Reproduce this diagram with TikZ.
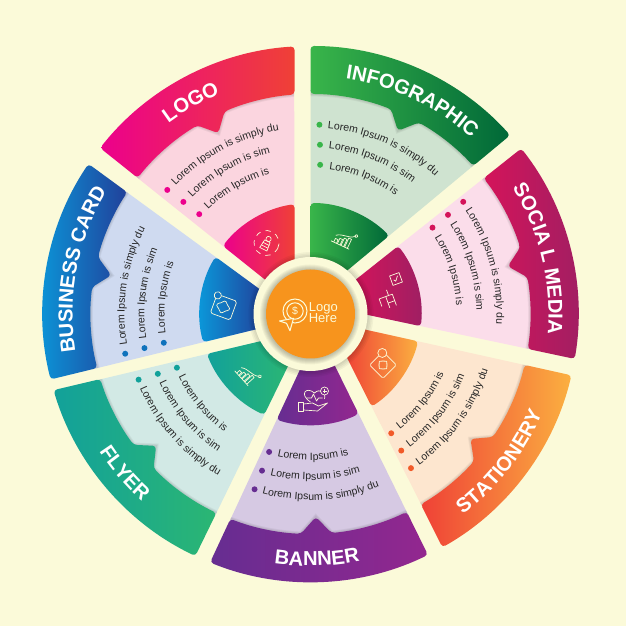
\documentclass[tikz,border=0pt]{standalone}
\usepackage{fontspec}
\setmainfont{Liberation Sans}
\usetikzlibrary{decorations.text}
\definecolor{paper}{HTML}{FBFAD9}
\definecolor{logoleft}{HTML}{EC008C}\definecolor{logoright}{HTML}{EF4136}\definecolor{logopale}{HTML}{FBD5DF}
\definecolor{infoleft}{HTML}{39B54A}\definecolor{inforight}{HTML}{006838}\definecolor{infopale}{HTML}{CFE3D0}
\definecolor{socialleft}{HTML}{D4145A}\definecolor{socialright}{HTML}{9E1F63}\definecolor{socialpale}{HTML}{FBDDEA}
\definecolor{statleft}{HTML}{EF4136}\definecolor{statright}{HTML}{FBB040}\definecolor{statpale}{HTML}{FDE6CF}
\definecolor{statbullet}{HTML}{F15A29}
\definecolor{bannerleft}{HTML}{662D91}\definecolor{bannerright}{HTML}{93278F}\definecolor{bannerpale}{HTML}{D6C9E3}
\definecolor{flyerleft}{HTML}{12A19A}\definecolor{flyerright}{HTML}{2BB673}\definecolor{flyerpale}{HTML}{D2E9E5}
\definecolor{cardleft}{HTML}{0A9BDC}\definecolor{cardright}{HTML}{21409A}\definecolor{cardpale}{HTML}{CFDAF0}
\definecolor{cardbullet}{HTML}{0F72BC}
\definecolor{hubfill}{HTML}{F7941D}
\newcommand{\headfont}{\fontsize{11.5}{13}\selectfont\bfseries}
\newcommand{\loremfont}{\fontsize{6}{7}\selectfont}
% outer band with its pointer, as one path
\newcommand{\bandpath}{(\aOut:268) arc[start angle=\aOut,end angle=\bOut,radius=268]
  -- (\bIn:220) arc[start angle=\bIn,end angle=\midang-4,radius=220]
  -- (\midang:203) -- ({\midang+4}:220)
  arc[start angle=\midang+4,end angle=\aIn,radius=220] -- cycle}
% small bar chart, used twice
\newcommand{\chartmark}{
  \draw[icon] (-11,-6) -- (9,-6);
  \foreach \x/\h in {-8/4,-4/6,0/8,4/10} {
    \draw[icon] (\x,-6) -- (\x,-6+\h) -- (\x+3,-6+\h) -- (\x+3,-6);
  }
  \draw[icon] (-9,1) .. controls (-3,6) and (3,3) .. (9,8);
  \draw[icon] (10,9) circle (1.5);
}
\tikzset{
  icon/.style={draw=paper,line width=.4pt,line join=round},
  bullet/.style={circle,inner sep=0pt,minimum size=3.4pt}
}
\begin{document}
\begin{tikzpicture}[scale=.02,declare function={rim(\t,\d,\r)=\t+asin(\d/\r);}]
\useasboundingbox (-310.5,-312) rectangle (315.5,314);
\fill[paper] (-310.5,-312) rectangle (315.5,314);
% the seven sectors
\foreach \ta/\da/\tb/\db/\midang/\colleft/\colright/\colpale/\colbullet/\head/\headang/\textang/\turn in {
  141.4/1.5/90/16/117/logoleft/logoright/logopale/logoleft/LOGO/119.5/136.5/-1,
  90/0/39.7/10/64.5/infoleft/inforight/infopale/infoleft/INFOGRAPHIC/64.5/84.7/-1,
  38.4/-1.2/-12/11/13.6/socialleft/socialright/socialpale/socialleft/SOCIA L MEDIA/13.6/33.7/-1,
  -12.5/-3.4/-63.3/13/-38/statleft/statright/statpale/statbullet/STATIONERY/-38/-54.3/1,
  296.2/-1/245/14/271.5/bannerleft/bannerright/bannerpale/bannerleft/BANNER/271.5/254.9/1,
  244/2.6/193.3/15/220.5/flyerleft/flyerright/flyerpale/flyerleft/FLYER/220.5/203.5/1,
  193.7/2/143.8/10/169/cardleft/cardright/cardpale/cardbullet/BUSINESS CARD/169/189.5/-1} {
  \pgfmathsetmacro\aOut{rim(\ta,\da,268)}
  \pgfmathsetmacro\bOut{rim(\tb,\db,268)}
  \pgfmathsetmacro\aIn{rim(\ta,\da,220)}
  \pgfmathsetmacro\bIn{rim(\tb,\db,220)}
  \pgfmathsetmacro\aSm{rim(\ta,\da,111)}
  \pgfmathsetmacro\bSm{rim(\tb,\db,111)}
  \pgfmathsetmacro\aHub{rim(\ta,\da,50)}
  \pgfmathsetmacro\bHub{rim(\tb,\db,50)}
  % pale wedge, then the soft edge of the band on it
  \begin{scope}
    \path[clip] (\aHub:50) -- (\aIn:224) arc[start angle=\aIn,end angle=\bIn,radius=224] -- (\bHub:50) -- cycle;
    \fill[\colpale] (-320,-320) rectangle (320,320);
    \foreach \w in {1,2,3} {
      \draw[black,opacity=.045,line width=\w*.9pt] \bandpath;
    }
  \end{scope}
  \shade[left color=\colleft,right color=\colright,rounded corners=2pt] \bandpath;
  \shade[left color=\colleft,right color=\colright,rounded corners=2pt]
    (\aSm:111) arc[start angle=\aSm,end angle=\bSm,radius=111] -- (\bHub:50) -- (\aHub:50) -- cycle;
  % heading on the band
  \pgfmathsetmacro\headr{\turn<0 ? 238 : 252}
  \pgfmathsetmacro\headfrom{\headang-\turn*46}
  \pgfmathsetmacro\headto{\headang+\turn*46}
  \path[decorate,decoration={text along path,text align=center,text color=white,
      text/.expanded={|\noexpand\headfont|\head}}]
    (\headfrom:\headr) arc[start angle=\headfrom,end angle=\headto,radius=\headr];
  % the three lines with their bullets
  \foreach \n/\rad/\txt in {0/186/Lorem Ipsum is simply du,1/166/Lorem Ipsum is sim,2/146/Lorem Ipsum is} {
    \pgfmathsetmacro\from{\textang+\n*\turn}
    \pgfmathsetmacro\to{\from+\turn*60}
    \pgfmathsetmacro\dotang{\textang-\turn*2.6+\n*\turn*.5}
    \pgfmathsetmacro\dotrad{\rad+\turn*(-1.5)+(\turn>0 ? -2.5 : 0)+2}
    \path[decorate,decoration={text along path,text color=black!85,
        text/.expanded={|\noexpand\loremfont|\txt}}]
      (\from:\rad) arc[start angle=\from,end angle=\to,radius=\rad];
    \node[bullet,fill=\colbullet] (dot\n) at (\dotang:\dotrad) {};
  }
}
% LOGO icon
\begin{scope}[shift={(-44,71)},rotate=-27]
  \draw[icon,dashed] (0,0) circle (12.5);
  \draw[icon] (0,4.5) circle (2.6);
  \draw[icon] (-4,-7) -- (-3,2) -- (3,2) -- (4,-7) -- cycle;
  \foreach \y in {-4,-1} { \draw[icon] (-3.5,\y) -- (3.5,\y); }
\end{scope}
% INFOGRAPHIC and FLYER icons
\begin{scope}[shift={(33,74)},rotate=-25] \chartmark \end{scope}
\begin{scope}[shift={(-64,-61)},rotate=-48] \chartmark \end{scope}
% SOCIA L MEDIA icon
\begin{scope}[shift={(85.5,35)},rotate=20]
  \draw[icon] (-5,-5) rectangle (5,5);
  \draw[icon] (-2.5,0) -- (-1,-2) -- (2.5,2.5);
\end{scope}
\begin{scope}[shift={(80,16)},rotate=20]
  \draw[icon] (-4,-4) rectangle (3,3);
  \draw[icon] (-4,3) -- (-11,3) -- (-11,-5) (-4,-4) -- (-4,-9) (3,-4) -- (3,-9) (-1,3) -- (-1,9);
\end{scope}
% STATIONERY icon
\begin{scope}[shift={(72.5,-51)},rotate=45]
  \draw[icon,rounded corners=1pt] (-9.5,-9.5) rectangle (9.5,9.5);
  \draw[icon,rounded corners=1pt] (-5,-2) -- (-2,-2) -- (-2,-5) -- (2,-5) -- (2,-2) -- (5,-2) -- (5,2) -- (2,2) -- (2,5) -- (-2,5) -- (-2,2) -- (-5,2) -- cycle;
  \draw[icon,fill=statleft!45!statright] (8,9) circle (4.5);
\end{scope}
% BANNER icon
\begin{scope}[shift={(4,-86)}]
  \draw[icon] (-4,-2) .. controls (-16,6) and (-8,14) .. (0,7) .. controls (5,12) and (12,8) .. (10,1);
  \draw[icon] (-8,2) -- (-3,2) -- (-1,6) -- (2,-1) -- (4,2) -- (8,2);
  \draw[icon] (-16,-11) rectangle (-11,-2);
  \draw[icon] (-11,-4) -- (-2,-3) -- (4,-6) -- (13,-3) -- (3,-11) -- (-11,-10);
  \draw[icon,fill=bannerleft!50!bannerright] (10,9) circle (4);
  \draw[icon] (8,9) -- (12,9) (10,7) -- (10,11);
\end{scope}
% BUSINESS CARD icon
\begin{scope}[shift={(-87,8)},rotate=-20]
  \draw[icon,rounded corners=1pt] (-10,-11) rectangle (11,9);
  \draw[icon,rounded corners=1pt] (-2.5,-7) -- (2.5,-7) -- (2.5,-3.5) -- (6.5,-3.5) -- (6.5,1.5) -- (2.5,1.5) -- (2.5,5) -- (-2.5,5) -- (-2.5,1.5) -- (-6.5,1.5) -- (-6.5,-3.5) -- (-2.5,-3.5) -- cycle;
  \draw[icon,fill=cardleft!60!cardright] (-9,8) circle (3.6);
\end{scope}
% hub in the middle
\foreach \r in {58,59.5,61,62.5} {
  \fill[black,opacity=.04] (.5,-.5) circle (\r);
}
\fill[paper] (0,0) circle (57);
\foreach \r in {45,46,47,48,49,50} {
  \fill[black,opacity=.045] (-.5,-.5) circle (\r);
}
\fill[hubfill] (0,0) circle (44.5);
\draw[icon,line width=.6pt] (-15.5,3) circle (12) (-15.5,3) circle (8.2);
\node[text=paper,font=\fontsize{6}{6}\selectfont,inner sep=0pt] (dollar) at (-15.5,3) {\$};
\draw[icon,line width=.6pt,fill=hubfill] (-31,-7) -- (-17,-4.3) -- (-20.5,-16.7) -- (-24,-9.3) -- cycle;
\node[text=paper,font=\fontsize{7.4}{9}\selectfont,align=left,anchor=west,inner sep=0pt] (logohere) at (-2,1.8) {Logo\\[-2.8pt]Here};
\end{tikzpicture}
\end{document}
